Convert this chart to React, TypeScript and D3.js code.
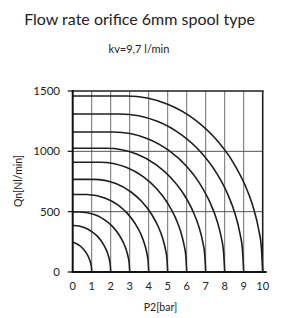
import React from "react";
import * as d3 from "d3";

const title = "Flow rate orifice 6mm spool type";
const subtitle = "kv=9,7 l/min";
const xLabel = "P2[bar]";
const yLabel = "Qn[Nl/min]";
const xTicks = [0, 1, 2, 3, 4, 5, 6, 7, 8, 9, 10];
const yTicks = [0, 500, 1000, 1500];
const hGrid = [500, 1000];

// each curve: [P2 bar, Qn Nl/min]
const curve1 = [[0, 247], [0.09, 242], [0.35, 220], [0.545, 193], [0.714, 159], [0.831, 125], [0.909, 93], [0.961, 62], [0.987, 36], [1, 0]];
const curve2 = [[0, 385], [0.05, 385], [0.635, 367], [1.025, 333], [1.318, 293], [1.571, 241], [1.747, 190], [1.864, 142], [1.942, 94], [1.98, 54], [2, 0]];
const curve3 = [[0, 497], [0.4, 497], [1.18, 474], [1.7, 430], [2.09, 378], [2.428, 311], [2.662, 245], [2.818, 183], [2.922, 121], [2.974, 70], [3, 0]];
const curve4 = [[0, 642], [0.75, 642], [1.725, 612], [2.375, 556], [2.863, 488], [3.285, 402], [3.578, 317], [3.773, 236], [3.903, 156], [3.968, 91], [4, 0]];
const curve5 = [[0, 768], [1.1, 768], [2.27, 733], [3.05, 665], [3.635, 584], [4.142, 481], [4.493, 379], [4.727, 283], [4.883, 187], [4.961, 108], [5, 0]];
const curve6 = [[0, 910], [1.45, 910], [2.815, 868], [3.725, 788], [4.408, 692], [4.999, 570], [5.409, 449], [5.682, 335], [5.864, 221], [5.955, 128], [6, 0]];
const curve7 = [[0, 1025], [1.8, 1025], [3.36, 978], [4.4, 888], [5.18, 779], [5.856, 642], [6.324, 505], [6.636, 377], [6.844, 249], [6.948, 145], [7, 0]];
const curve8 = [[0, 1160], [2.15, 1160], [3.905, 1107], [5.075, 1005], [5.953, 882], [6.713, 726], [7.24, 572], [7.591, 427], [7.825, 282], [7.942, 164], [8, 0]];
const curve9 = [[0, 1310], [2.5, 1310], [4.45, 1250], [5.75, 1134], [6.725, 996], [7.57, 820], [8.155, 646], [8.545, 482], [8.805, 318], [8.935, 185], [9, 0]];
const curve10 = [[0, 1458], [2.85, 1458], [4.995, 1391], [6.425, 1263], [7.498, 1108], [8.427, 913], [9.071, 719], [9.5, 537], [9.786, 354], [9.929, 206], [10, 0]];
const curves = [curve1, curve2, curve3, curve4, curve5, curve6, curve7, curve8, curve9, curve10];

const FONT = "Lato, 'Open Sans', sans-serif";
const TXT = "#222";

export default function App() {
  const left = 72.7, right = 262.7, top = 91, bottom = 272;
  const x = d3.scaleLinear().domain([0, 10]).range([left, right]);
  const y = d3.scaleLinear().domain([0, 1500]).range([bottom, top]);
  const line = d3
    .line<number[]>()
    .x((d) => x(d[0]))
    .y((d) => y(d[1]))
    .curve(d3.curveMonotoneX);

  return (
    <svg width={281} height={318} style={{ position: "absolute", left: 0, top: 0, background: "#fff" }}>
      <text x={139.5} y={25} textAnchor="middle" fontFamily={FONT} fontSize={16} fill={TXT}>{title}</text>
      <text x={139} y={53} textAnchor="middle" fontFamily={FONT} fontSize={11} fill={TXT}>{subtitle}</text>

      {xTicks.slice(1, -1).map((t) => (
        <line key={"vx" + t} x1={x(t)} x2={x(t)} y1={top} y2={bottom} stroke="#6e6e6e" strokeWidth={1} />
      ))}
      {hGrid.map((t) => (
        <line key={"hy" + t} x1={left} x2={right} y1={y(t)} y2={y(t)} stroke="#555" strokeWidth={1} />
      ))}

      {curves.map((c, i) => (
        <path key={"c" + i} d={line(c as number[][]) || ""} fill="none" stroke="#1e1e1e" strokeWidth={1.6} />
      ))}

      <line x1={left} x2={right + 1} y1={top} y2={top} stroke="#1e1e1e" strokeWidth={1.6} />
      <line x1={right} x2={right} y1={top} y2={bottom} stroke="#1e1e1e" strokeWidth={1.6} />
      <line x1={left} x2={left} y1={top - 1} y2={bottom + 1} stroke="#111" strokeWidth={2} />
      <line x1={left - 1} x2={right + 4} y1={bottom} y2={bottom} stroke="#111" strokeWidth={2} />

      {yTicks.map((t) => (
        <g key={"yt" + t}>
          <line x1={left - 5} x2={left} y1={y(t)} y2={y(t)} stroke="#111" strokeWidth={1.2} />
          <text x={60} y={y(t) + 4} textAnchor="end" fontFamily={FONT} fontSize={11.5} fill={TXT}>{t}</text>
        </g>
      ))}
      {xTicks.map((t) => (
        <text key={"xt" + t} x={x(t)} y={290} textAnchor="middle" fontFamily={FONT} fontSize={11} fill={TXT}>{t}</text>
      ))}
      <text x={160.5} y={311} textAnchor="middle" fontFamily={FONT} fontSize={10.5} fill={TXT}>{xLabel}</text>
      <text transform={`translate(21.5,181) rotate(-90)`} textAnchor="middle" fontFamily={FONT} fontSize={10.5} fill={TXT}>{yLabel}</text>
    </svg>
  );
}
